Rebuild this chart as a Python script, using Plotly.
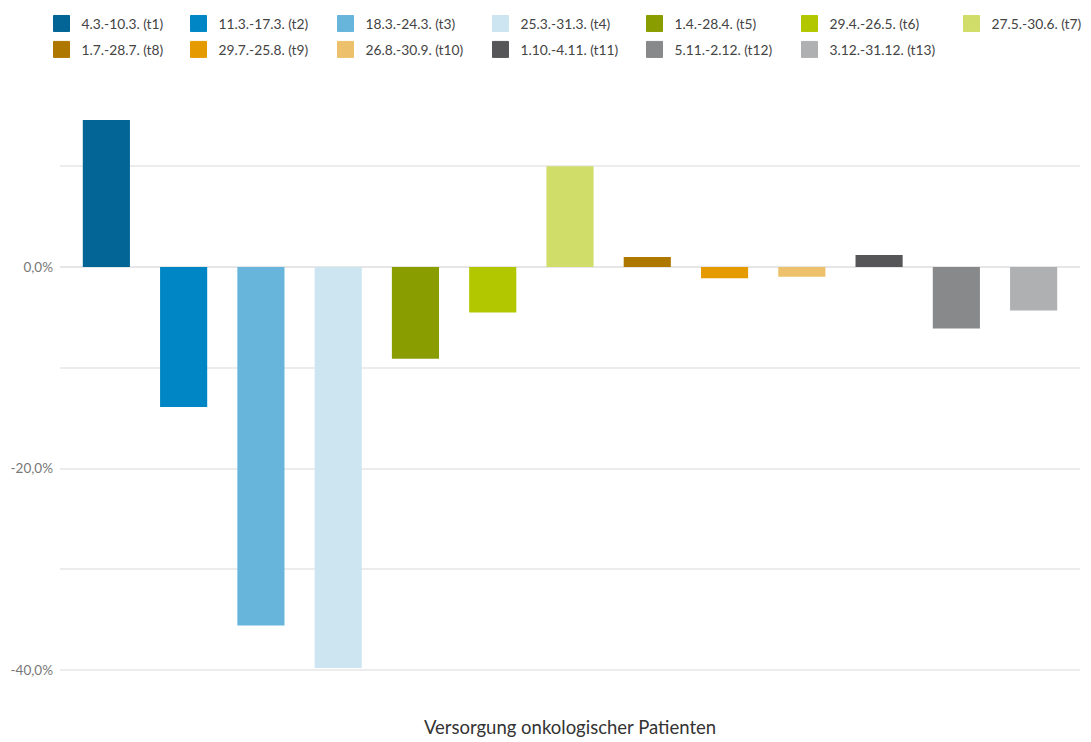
import plotly.graph_objects as go

# Zeiträume (Abschnitte des Jahres) und Veränderung in Prozent
periods = [
    "4.3.-10.3. (t1)", "11.3.-17.3. (t2)", "18.3.-24.3. (t3)", "25.3.-31.3. (t4)",
    "1.4.-28.4. (t5)", "29.4.-26.5. (t6)", "27.5.-30.6. (t7)", "1.7.-28.7. (t8)",
    "29.7.-25.8. (t9)", "26.8.-30.9. (t10)", "1.10.-4.11. (t11)", "5.11.-2.12. (t12)",
    "3.12.-31.12. (t13)",
]
change_pct = [14.6, -13.9, -35.6, -39.8, -9.1, -4.5, 10.0, 1.0, -1.1, -0.95, 1.2, -6.1, -4.3]
colors = [
    "#036595", "#0086c5", "#68b5dc", "#cde5f1", "#8a9d00", "#b3c700", "#d1dd69",
    "#ae7700", "#e59b00", "#edc16b", "#565658", "#88898a", "#aeb0b1",
]

y_tickvals = [-40, -30, -20, -10, 0, 10]
y_ticktext = ["-40,0%", "", "-20,0%", "", "0,0%", ""]
x_title = "Versorgung onkologischer Patienten"

# Legend is laid out as 7 columns x 2 rows; each column is its own legend box
legend_cols = 7
legend_col_x = [41.5, 178.5, 325.5, 480.5, 634.5, 789.5, 951.5]  # px in container

fig = go.Figure()
for i, (name, val, col) in enumerate(zip(periods, change_pct, colors)):
    leg = "legend" if i % legend_cols == 0 else f"legend{i % legend_cols + 1}"
    fig.add_trace(go.Bar(
        x=[i], y=[val], name=name, width=0.61,
        marker=dict(color=col, line=dict(width=0)),
        showlegend=False, legendgroup=name,
    ))
    # square legend swatch for the same series
    fig.add_trace(go.Scatter(
        x=[None], y=[None], mode="markers", name=name, legend=leg, legendgroup=name,
        marker=dict(symbol="square", size=16, color=col, line=dict(width=1, color=col)),
    ))

W, H = 1091, 742
legend_layout = {}
for c in range(legend_cols):
    key = "legend" if c == 0 else f"legend{c + 1}"
    legend_layout[key] = dict(
        orientation="v", xref="container", yref="container",
        x=legend_col_x[c] / W, y=1 - 8 / H, xanchor="left", yanchor="top",
        font=dict(family="Lato, sans-serif", size=13.8, color="#444"),
        bgcolor="rgba(0,0,0,0)", tracegroupgap=5, itemwidth=30,
        traceorder="grouped", itemclick=False, itemdoubleclick=False,
    )

fig.update_layout(
    width=W, height=H,
    margin=dict(l=60, r=11, t=116, b=62, autoexpand=False),
    paper_bgcolor="white", plot_bgcolor="white",
    barmode="overlay",
    font=dict(family="Lato, Open Sans, sans-serif", color="#444"),
    xaxis=dict(
        range=[-0.6, 12.6], showticklabels=False, showgrid=False, zeroline=False,
        automargin=False,
        title=dict(text=x_title, font=dict(size=18.5, color="#333"), standoff=41),
    ),
    yaxis=dict(
        range=[-41, 15], tickvals=y_tickvals, ticktext=y_ticktext,
        showgrid=True, gridcolor="#ececec", gridwidth=1.5,
        zeroline=True, zerolinecolor="#e6e6e6", zerolinewidth=2,
        tickfont=dict(size=13.5, color="#777"), ticks="", ticklen=0,
        ticklabelstandoff=6, automargin=False,
    ),
    **legend_layout,
)

fig.write_html("out.html")
